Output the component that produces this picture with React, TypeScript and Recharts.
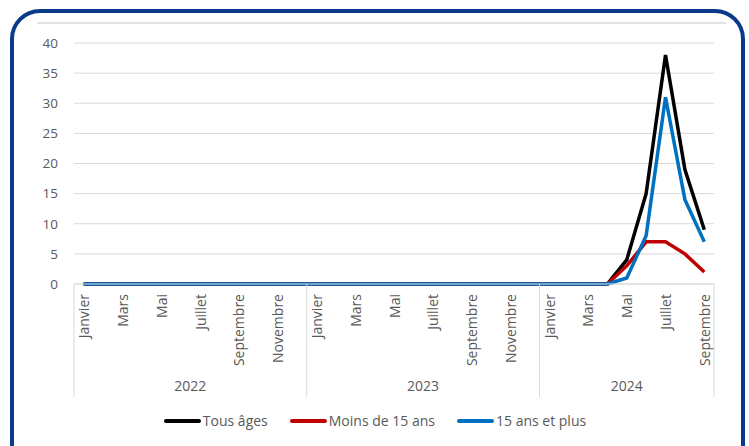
import React from 'react';
import { LineChart, Line, XAxis, YAxis, CartesianGrid, Legend } from 'recharts';

const monthNames = ['Janvier', 'Février', 'Mars', 'Avril', 'Mai', 'Juin', 'Juillet', 'Août', 'Septembre', 'Octobre', 'Novembre', 'Décembre'];
const years = ['2022', '2023', '2024'];
const monthsPerYear = [12, 12, 9];

const tousAges = [
  0, 0, 0, 0, 0, 0, 0, 0, 0, 0, 0, 0,
  0, 0, 0, 0, 0, 0, 0, 0, 0, 0, 0, 0,
  0, 0, 0, 0, 4, 15, 38, 19, 9,
];
const moins15 = [
  0, 0, 0, 0, 0, 0, 0, 0, 0, 0, 0, 0,
  0, 0, 0, 0, 0, 0, 0, 0, 0, 0, 0, 0,
  0, 0, 0, 0, 3, 7, 7, 5, 2,
];
const plus15 = [
  0, 0, 0, 0, 0, 0, 0, 0, 0, 0, 0, 0,
  0, 0, 0, 0, 0, 0, 0, 0, 0, 0, 0, 0,
  0, 0, 0, 0, 1, 8, 31, 14, 7,
];
const yTicks = [0, 5, 10, 15, 20, 25, 30, 35, 40];

const series = [
  { key: 'tous', name: 'Tous âges', color: '#000000' },
  { key: 'moins', name: 'Moins de 15 ans', color: '#C00000' },
  { key: 'plus', name: '15 ans et plus', color: '#0070C0' },
];

type Row = { key: string; month: string; m: number; year: string; n: number; tous: number; moins: number; plus: number };

const rows: Row[] = [];
years.forEach((year, yi) => {
  for (let m = 0; m < monthsPerYear[yi]; m++) {
    const i = rows.length;
    rows.push({
      key: `${year}-${m + 1}`,
      month: monthNames[m],
      m,
      year,
      n: monthsPerYear[yi],
      tous: tousAges[i],
      moins: moins15[i],
      plus: plus15[i],
    });
  }
});

const FONT = '"Open Sans", sans-serif';
const TEXT = '#595959';
const GRID = '#d9d9d9';

// plot is 640px wide; half a category slot on each side, like Excel's "between tick marks"
const PLOT_W = 640;
const HALF = PLOT_W / (rows.length * 2);

const MonthTick = (props: any) => {
  const { x, y, payload } = props;
  const row = rows[payload.index];
  if (!row) return null;
  const els: React.ReactNode[] = [];
  if (row.m % 2 === 0) {
    els.push(
      <text key="m" x={x} y={y + 10} transform={`rotate(-90, ${x}, ${y + 10})`} textAnchor="end"
        dominantBaseline="central" fontSize={14} fontFamily={FONT} fill={TEXT}>
        {row.month}
      </text>
    );
  }
  if (row.m === 0) {
    els.push(<line key="s" x1={x - HALF} x2={x - HALF} y1={y} y2={y + 113} stroke={GRID} strokeWidth={1} />);
  }
  if (payload.index === rows.length - 1) {
    els.push(<line key="e" x1={x + HALF} x2={x + HALF} y1={y} y2={y + 113} stroke={GRID} strokeWidth={1} />);
  }
  if (row.m === Math.floor((row.n - 1) / 2)) {
    const cx = row.n % 2 === 0 ? x + HALF : x;
    els.push(
      <text key="y" x={cx} y={y + 101} textAnchor="middle" dominantBaseline="central"
        fontSize={14} fontFamily={FONT} fill={TEXT}>
        {row.year}
      </text>
    );
  }
  return <g>{els}</g>;
};

const renderLegend = () => (
  <div style={{ display: 'flex', justifyContent: 'center', alignItems: 'center', height: 30, paddingLeft: 22, paddingTop: 3,
    boxSizing: 'border-box', fontFamily: FONT, fontSize: 14, color: TEXT }}>
    {series.map((s) => (
      <div key={s.key} style={{ display: 'flex', alignItems: 'center', margin: '0 11px' }}>
        <span style={{ display: 'inline-block', width: 37, height: 4, background: s.color, borderRadius: 2, marginRight: 2 }} />
        <span>{s.name}</span>
      </div>
    ))}
  </div>
);

export default function App() {
  return (
    <div style={{ position: 'absolute', left: 0, top: 0, width: 749, height: 446, background: '#fff', overflow: 'hidden' }}>
      <div style={{ position: 'absolute', left: 10, top: 9, width: 735, height: 480, boxSizing: 'border-box', border: '4px solid #0B3A8A', borderRadius: 30 }} />
      <div style={{ position: 'absolute', left: 37, top: 22, width: 689, height: 2, background: '#e3e3e3' }} />
      <div style={{ position: 'absolute', left: 0, top: 0 }}>
        <LineChart width={749} height={446} data={rows} margin={{ top: 43, right: 35, left: 14, bottom: 12 }}>
          <CartesianGrid vertical={false} stroke={GRID} />
          <XAxis dataKey="key" interval={0} tick={<MonthTick />} tickLine={false} tickSize={0} tickMargin={0}
            axisLine={{ stroke: GRID }} height={120} padding={{ left: HALF, right: HALF }} />
          <YAxis domain={[0, 40]} ticks={yTicks} axisLine={false} tickLine={false} tickSize={0} tickMargin={16} width={60}
            tick={{ fill: TEXT, fontSize: 13.5, fontFamily: FONT }} />
          <Legend verticalAlign="bottom" height={30} content={renderLegend} />
          {series.map((s) => (
            <Line key={s.key} type="linear" dataKey={s.key} name={s.name} stroke={s.color} strokeWidth={3.5}
              dot={false} activeDot={false} isAnimationActive={false} />
          ))}
        </LineChart>
      </div>
    </div>
  );
}
